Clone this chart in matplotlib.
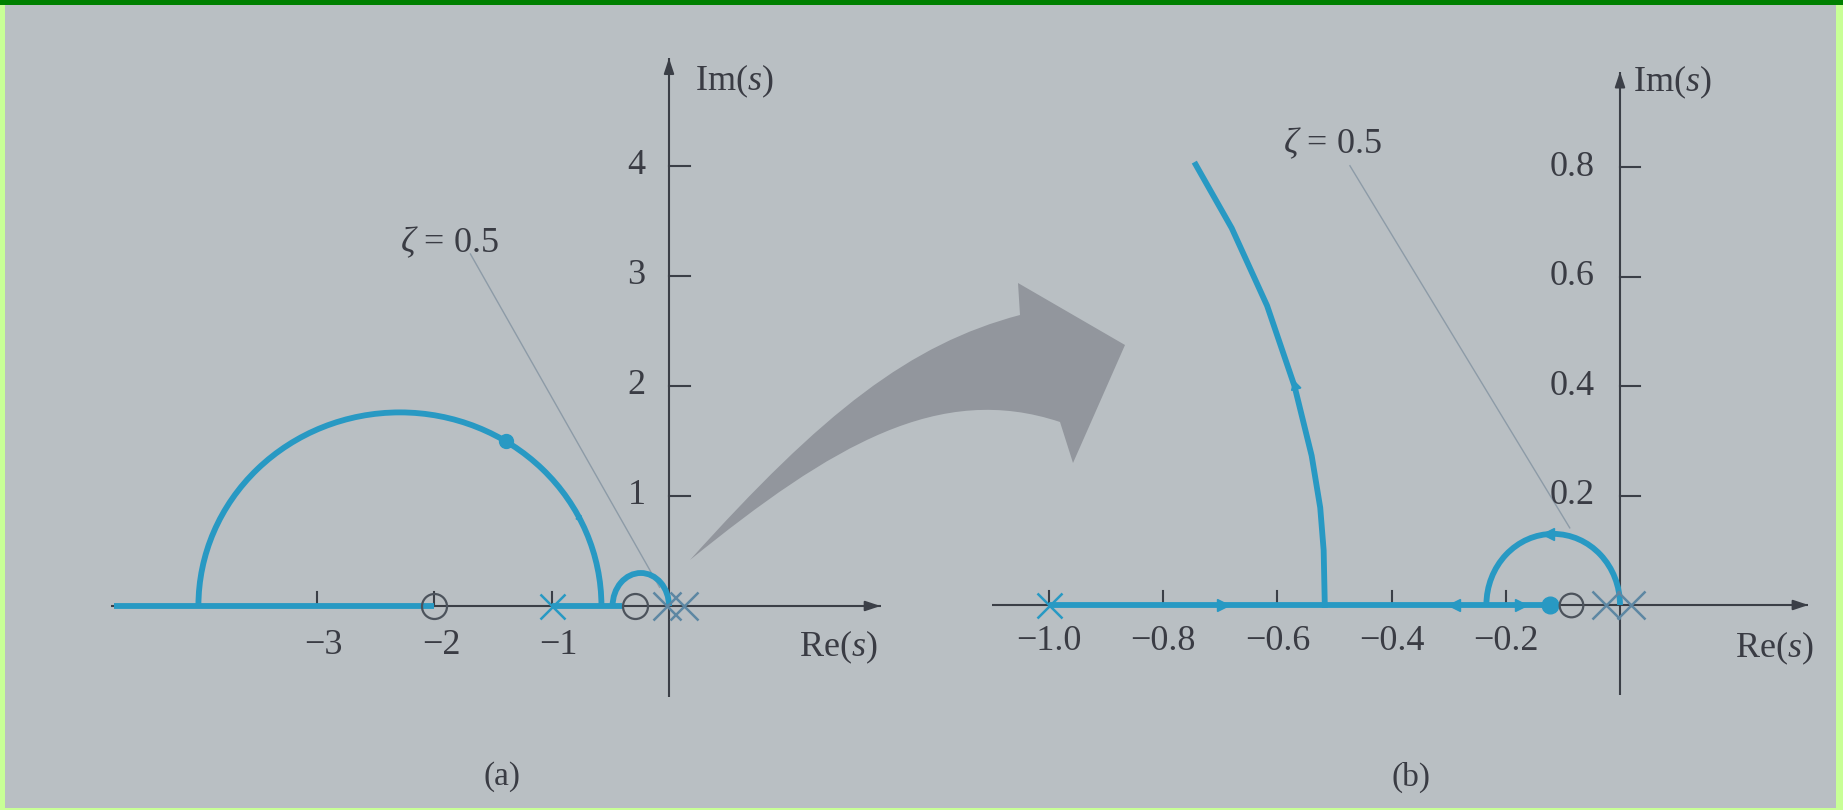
import matplotlib
matplotlib.use("Agg")
import matplotlib.pyplot as plt
from matplotlib.path import Path
from matplotlib.patches import PathPatch, Rectangle, Arc

plt.rcParams["font.family"] = ["Liberation Serif", "DejaVu Serif"]
plt.rcParams["mathtext.fontset"] = "custom"
plt.rcParams["mathtext.rm"] = "Liberation Serif"
plt.rcParams["mathtext.it"] = "Liberation Serif:italic"

# ---------------- panel (a): full root locus ----------------
a_xticks = [-3, -2, -1]
a_xticklabels = ["−3", "−2", "−1"]
a_yticks = [1, 2, 3, 4]
a_yticklabels = ["1", "2", "3", "4"]
a_pole_far = [-1.0]
a_poles_origin = [-0.02, 0.13]
a_zeros = [-2.0, -0.29]
a_real_start = [-4.72, -1.0]
a_real_end = [-2.0, -0.40]
a_arc_center, a_arc_rx, a_arc_ry = -2.29, 1.715, 1.76
a_loop_center, a_loop_rx, a_loop_ry = -0.24, 0.24, 0.30
a_dot_re, a_dot_im = [-1.39], [1.50]
a_mark_re, a_mark_im = [-0.77], [0.80]
a_zeta_re, a_zeta_im = [-1.69, -0.08], [3.20, 0.17]

# ---------------- panel (b): detail near the origin ----------------
b_xticks = [-1.0, -0.8, -0.6, -0.4, -0.2]
b_xticklabels = ["−1.0", "−0.8", "−0.6", "−0.4", "−0.2"]
b_yticks = [0.2, 0.4, 0.6, 0.8]
b_yticklabels = ["0.2", "0.4", "0.6", "0.8"]
b_pole_far = [-1.0]
b_poles_origin = [-0.025, 0.02]
b_zeros = [-0.085]
b_real_start, b_real_end = -1.0, -0.106
b_branch_re = [-0.517, -0.519, -0.525, -0.540, -0.570, -0.618, -0.680, -0.743]
b_branch_im = [0.0, 0.100, 0.178, 0.273, 0.400, 0.547, 0.689, 0.805]
b_loop_center, b_loop_rx, b_loop_ry = -0.117, 0.117, 0.13
b_dot_re, b_dot_im = [-0.123], [0.0]
b_arrows_right = [-0.695, -0.173]
b_arrows_left = [-0.29]
b_up_re, b_up_im = [-0.570], [0.40]
b_top_re, b_top_im = [-0.126], [0.13]
b_zeta_re, b_zeta_im = [-0.473, -0.088], [0.803, 0.141]

# ---------------- styling ----------------
W, H = 1843, 810
BG = "#b9bfc3"
LOCUS = "#2899c3"
AXIS = "#3b3f47"
TEXT = "#3a3c44"
ZETA = "#8d9ba7"
XMARK = "#5d87a3"
FS = 26

fig = plt.figure(figsize=(W / 100, H / 100), dpi=100)
fig.patch.set_facecolor(BG)


def make_axes(px_left, px_right, px_top, px_bottom, x0_px, y0_px, sx, sy):
    ax = fig.add_axes([px_left / W, (H - px_bottom) / H,
                       (px_right - px_left) / W, (px_bottom - px_top) / H])
    ax.set_xlim((px_left - x0_px) / sx, (px_right - x0_px) / sx)
    ax.set_ylim((y0_px - px_bottom) / sy, (y0_px - px_top) / sy)
    ax.axis("off")
    ax.patch.set_alpha(0)
    return ax


def axes_lines(ax, xlo, xhi, ylo, yhi):
    ax.plot([xlo, xhi], [0, 0], color=AXIS, lw=1.5, zorder=2, solid_capstyle="butt")
    ax.plot([0, 0], [ylo, yhi], color=AXIS, lw=1.5, zorder=2, solid_capstyle="butt")
    head = dict(arrowstyle="-|>,head_length=0.9,head_width=0.3", color=AXIS,
                lw=1.5, shrinkA=0, shrinkB=0)
    span_x = xhi - xlo
    span_y = yhi - ylo
    ax.annotate("", xy=(xhi, 0), xytext=(xhi - 0.02 * span_x, 0), arrowprops=head, zorder=2)
    ax.annotate("", xy=(0, yhi), xytext=(0, yhi - 0.02 * span_y), arrowprops=head, zorder=2)


# ===== panel (a) =====
axA = make_axes(90, 910, 30, 740, 669, 606, 117.5, 110.0)
axes_lines(axA, -4.75, 1.80, -0.83, 4.98)
for t, lab in zip(a_xticks, a_xticklabels):
    axA.plot([t, t], [0, 0.13], color=AXIS, lw=1.5, zorder=2)
    axA.text(t + 0.06, -0.36, lab, ha="center", va="center", fontsize=FS, color=TEXT)
for t, lab in zip(a_yticks, a_yticklabels):
    axA.plot([0, 0.18], [t, t], color=AXIS, lw=1.5, zorder=2)
    axA.text(-0.2, t, lab, ha="right", va="center", fontsize=FS, color=TEXT)

axA.plot(a_zeta_re, a_zeta_im, color=ZETA, lw=1.0, zorder=1)
axA.text(-1.87, 3.30, r"$\zeta$ = 0.5", ha="center", va="center", fontsize=FS, color=TEXT)
axA.text(0.22, 4.77, r"Im($s$)", ha="left", va="center", fontsize=FS, color=TEXT)
axA.text(1.44, -0.38, r"Re($s$)", ha="center", va="center", fontsize=FS, color=TEXT)

for x0, x1 in zip(a_real_start, a_real_end):
    axA.plot([x0, x1], [0, 0], color=LOCUS, lw=4.2, zorder=3, solid_capstyle="butt")
axA.add_patch(Arc((a_arc_center, 0), 2 * a_arc_rx, 2 * a_arc_ry, theta1=0, theta2=180,
                  color=LOCUS, lw=4.2, zorder=3))
axA.add_patch(Arc((a_loop_center, 0), 2 * a_loop_rx, 2 * a_loop_ry, theta1=0, theta2=180,
                  color=LOCUS, lw=4.2, zorder=3))
axA.plot(a_dot_re, a_dot_im, "o", color=LOCUS, ms=10, zorder=4)
axA.plot(a_mark_re, a_mark_im, marker=(3, 0, -25), color=LOCUS, ms=5, zorder=4)
axA.plot(a_pole_far, [0] * len(a_pole_far), "x", color=LOCUS, ms=18, mew=1.8, zorder=4)
axA.plot(a_poles_origin, [0] * len(a_poles_origin), "x", color=XMARK, ms=20, mew=1.8, zorder=4)
axA.plot(a_zeros, [0] * len(a_zeros), "o", mfc="none", mec="#4c535c", ms=18, mew=1.6, zorder=4)

# ===== panel (b) =====
axB = make_axes(960, 1830, 30, 740, 1620, 605, 571.0, 547.0)
axes_lines(axB, -1.10, 0.33, -0.165, 0.975)
for t, lab in zip(b_xticks, b_xticklabels):
    axB.plot([t, t], [0, 0.026], color=AXIS, lw=1.5, zorder=2)
    axB.text(t, -0.066, lab, ha="center", va="center", fontsize=FS, color=TEXT)
for t, lab in zip(b_yticks, b_yticklabels):
    axB.plot([0, 0.035], [t, t], color=AXIS, lw=1.5, zorder=2)
    axB.text(-0.045, t, lab, ha="right", va="center", fontsize=FS, color=TEXT)

axB.plot(b_zeta_re, b_zeta_im, color=ZETA, lw=1.0, zorder=1)
axB.text(-0.504, 0.843, r"$\zeta$ = 0.5", ha="center", va="center", fontsize=FS, color=TEXT)
axB.text(0.023, 0.956, r"Im($s$)", ha="left", va="center", fontsize=FS, color=TEXT)
axB.text(0.27, -0.079, r"Re($s$)", ha="center", va="center", fontsize=FS, color=TEXT)

axB.plot([b_real_start, b_real_end], [0, 0], color=LOCUS, lw=4.2, zorder=3, solid_capstyle="butt")
axB.plot(b_branch_re, b_branch_im, color=LOCUS, lw=4.2, zorder=3, solid_joinstyle="round")
axB.add_patch(Arc((b_loop_center, 0), 2 * b_loop_rx, 2 * b_loop_ry, theta1=0, theta2=180,
                  color=LOCUS, lw=4.2, zorder=3))
axB.plot(b_arrows_right, [0] * len(b_arrows_right), ">", color=LOCUS, ms=8, zorder=4)
axB.plot(b_arrows_left, [0] * len(b_arrows_left), "<", color=LOCUS, ms=8, zorder=4)
axB.plot(b_up_re, b_up_im, marker=(3, 0, 15), color=LOCUS, ms=8, zorder=4)
axB.plot(b_top_re, b_top_im, "<", color=LOCUS, ms=8, zorder=4)
axB.plot(b_dot_re, b_dot_im, "o", color=LOCUS, ms=12, zorder=4)
axB.plot(b_pole_far, [0] * len(b_pole_far), "x", color=LOCUS, ms=18, mew=1.8, zorder=4)
axB.plot(b_poles_origin, [0] * len(b_poles_origin), "x", color=XMARK, ms=20, mew=1.8, zorder=4)
axB.plot(b_zeros, [0] * len(b_zeros), "o", mfc="none", mec="#4c535c", ms=17, mew=1.6, zorder=4)

# ===== captions =====
fig.text(502 / W, 1 - 777 / H, "(a)", ha="center", va="center", fontsize=FS - 2, color=TEXT)
fig.text(1411 / W, 1 - 777 / H, "(b)", ha="center", va="center", fontsize=FS - 2, color=TEXT)

# ===== curved gray arrow between the panels (pixel outline) =====
def fx(px):
    return px / W


def fy(py):
    return 1 - py / H


arrow_pts = [
    (690, 560), (823, 412), (910, 344), (1020, 315),
    (1018, 283), (1125, 345), (1073, 463), (1060, 422),
    (940, 382), (833, 444), (690, 560),
]
codes = [Path.MOVETO, Path.CURVE4, Path.CURVE4, Path.CURVE4,
         Path.LINETO, Path.LINETO, Path.LINETO, Path.LINETO,
         Path.CURVE4, Path.CURVE4, Path.CURVE4]
arrow_path = Path([(fx(x), fy(y)) for x, y in arrow_pts], codes)
fig.patches.append(PathPatch(arrow_path, transform=fig.transFigure, facecolor="#92969d",
                             edgecolor="none", zorder=0))

# ===== frame strips =====
fig.patches.append(Rectangle((0, 1 - 5 / H), 1, 5 / H, transform=fig.transFigure,
                             facecolor="#008000", edgecolor="none", zorder=5))
fig.patches.append(Rectangle((0, 0), 5 / W, 1 - 5 / H, transform=fig.transFigure,
                             facecolor="#c8ff96", edgecolor="none", zorder=5))
fig.patches.append(Rectangle((1 - 7 / W, 0), 7 / W, 1 - 5 / H, transform=fig.transFigure,
                             facecolor="#c8ff96", edgecolor="none", zorder=5))
fig.patches.append(Rectangle((0, 0), 1, 2 / H, transform=fig.transFigure,
                             facecolor="#c8ff96", edgecolor="none", zorder=5))

fig.savefig("out.png", dpi=100, facecolor=BG)
